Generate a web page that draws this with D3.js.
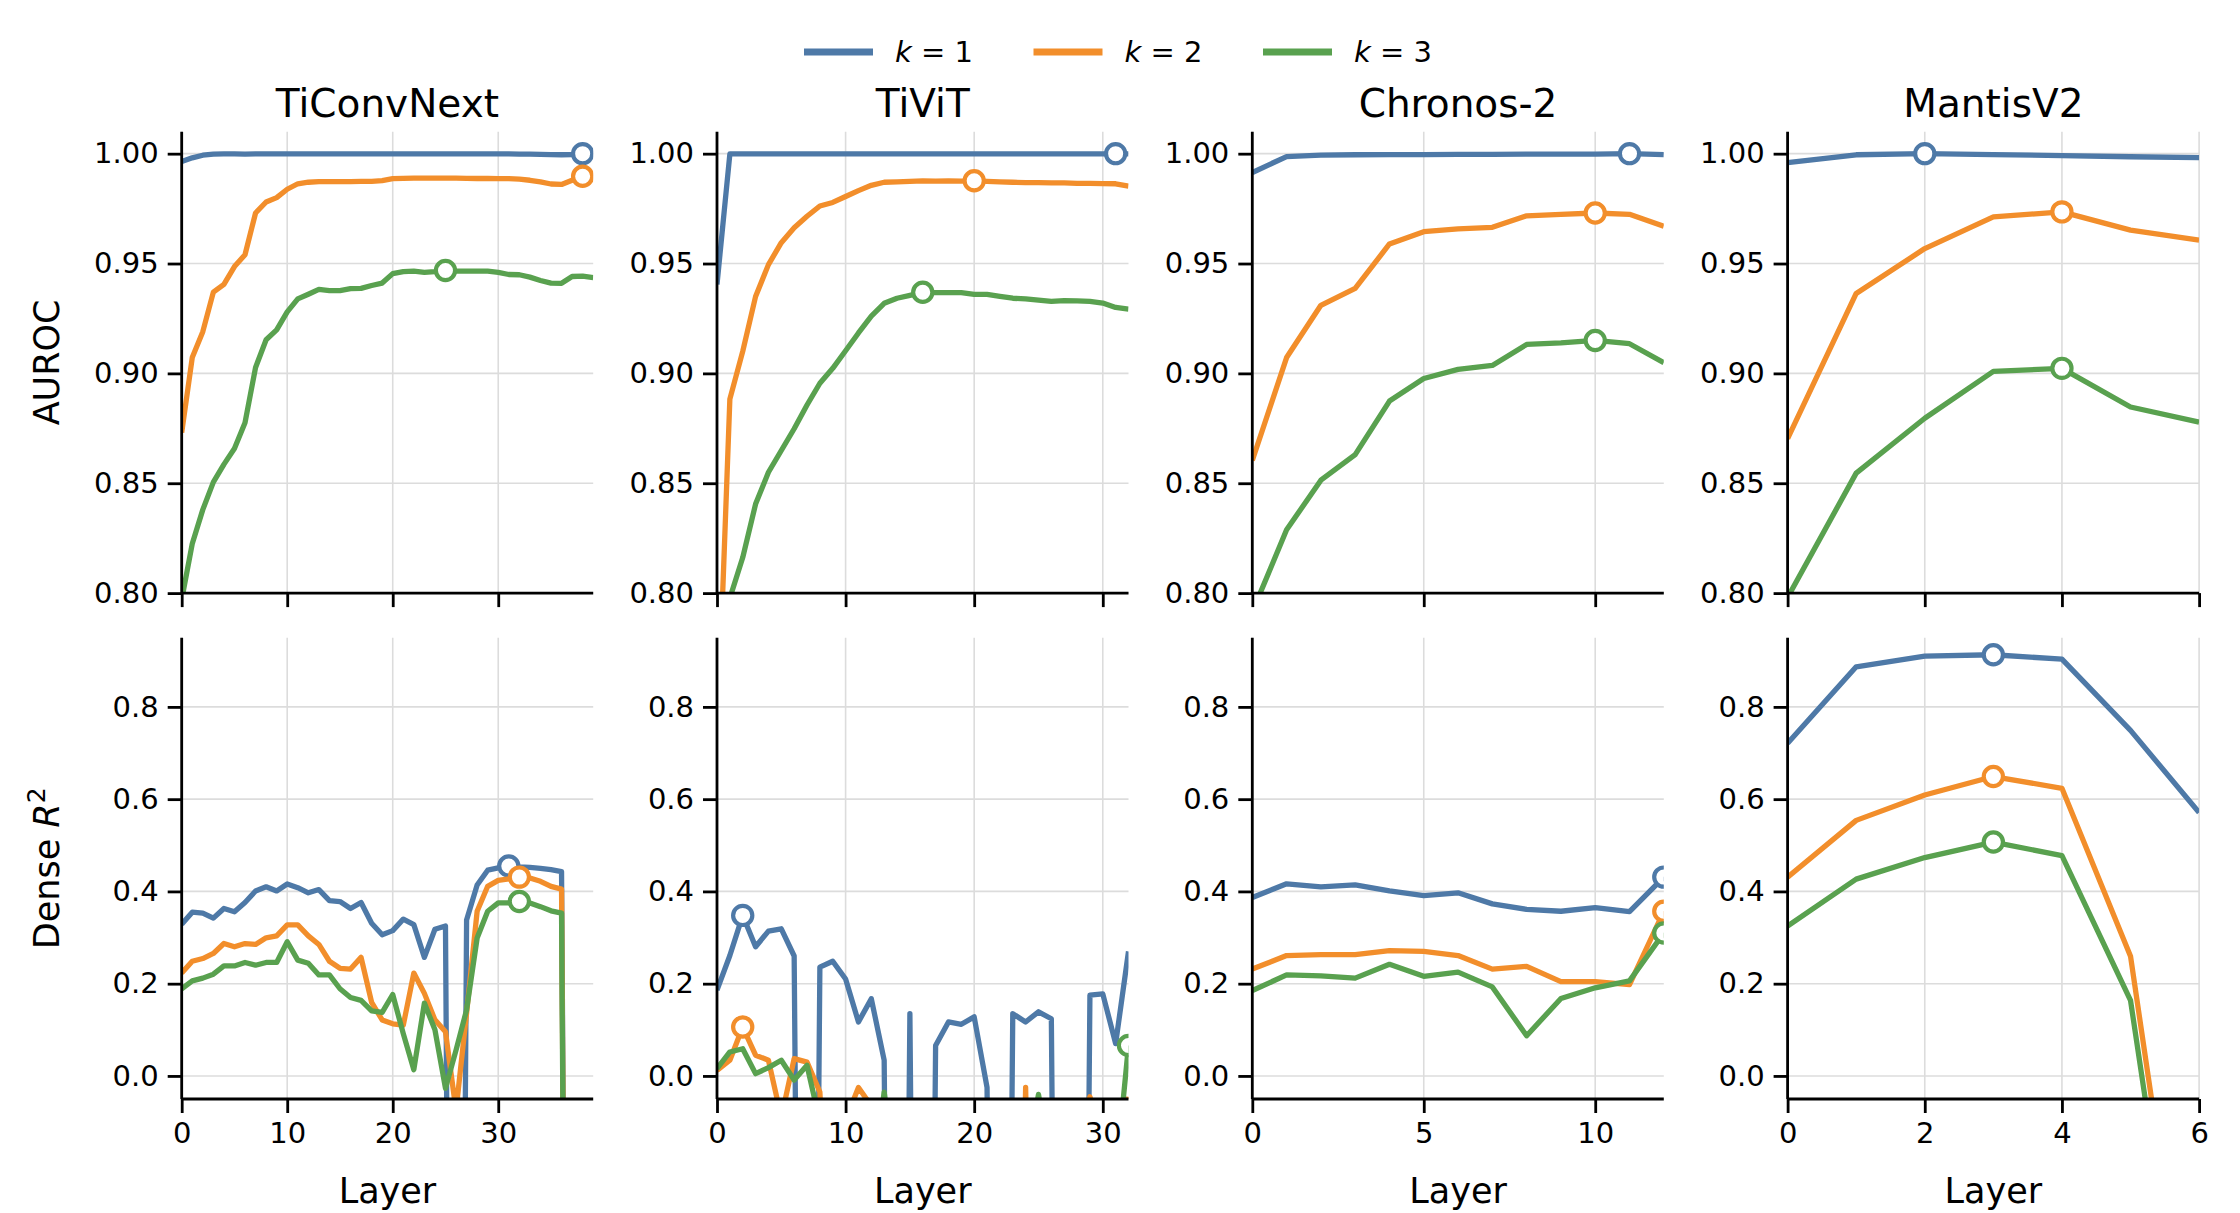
<!DOCTYPE html>
<html>
<head>
<meta charset="utf-8">
<script src="https://cdn.jsdelivr.net/npm/d3@7"></script>
<style>
  body { margin: 0; background: #fff; }
  svg { display: block; font-family: "DejaVu Sans", sans-serif; }
</style>
</head>
<body>
<div id="chart"></div>
<script>
/* DATA */
const models = ["TiConvNext", "TiViT", "Chronos-2", "MantisV2"];
const kLabels = ["1", "2", "3"];
const colors = ["#4e79a7", "#f28e2b", "#59a14f"];

const xTicks = [[0, 10, 20, 30], [0, 10, 20, 30], [0, 5, 10], [0, 2, 4, 6]];
const aurocTicks = [0.80, 0.85, 0.90, 0.95, 1.00];
const r2Ticks = [0.0, 0.2, 0.4, 0.6, 0.8];

// TiConvNext, layers 0..39
const ticonvAurocK1 = [0.9964,0.9981,0.9993,0.9998,0.9999,0.9999,0.9998,0.9999,0.9999,0.9999,
  0.9999,0.9999,0.9999,0.9999,0.9999,0.9999,0.9999,0.9999,0.9999,0.9999,
  0.9999,0.9999,0.9999,0.9999,0.9999,0.9999,0.9999,0.9999,0.9999,0.9999,
  0.9999,0.9999,0.9998,0.9998,0.9997,0.9996,0.9995,0.9996,1.0000,0.9998];
const ticonvAurocK2 = [0.873,0.9072,0.919,0.937,0.9405,0.9486,0.954,0.973,0.978,0.980,
  0.9838,0.9863,0.987,0.9873,0.9873,0.9873,0.9873,0.9874,0.9874,0.9877,
  0.9886,0.9888,0.9889,0.9889,0.9889,0.9889,0.9889,0.9888,0.9887,0.9887,
  0.9886,0.9886,0.9884,0.9879,0.9872,0.9862,0.986,0.9879,0.9897,0.9893];
const ticonvAurocK3 = [0.797,0.8225,0.838,0.8505,0.8586,0.8658,0.8775,0.9027,0.9153,0.9198,
  0.928,0.9339,0.936,0.9382,0.9377,0.9377,0.9386,0.9387,0.94,0.9411,
  0.9454,0.9463,0.9465,0.946,0.9463,0.9468,0.9465,0.9465,0.9465,0.9465,
  0.946,0.945,0.9449,0.9438,0.9423,0.9411,0.941,0.9441,0.9443,0.9436];
const ticonvR2K1 = [0.329,0.355,0.353,0.342,0.363,0.356,0.376,0.401,0.41,0.401,
  0.416,0.408,0.397,0.404,0.38,0.378,0.363,0.376,0.331,0.306,
  0.315,0.34,0.328,0.257,0.318,0.325,-3.0,0.338,0.414,0.446,
  0.451,0.455,0.453,0.452,0.45,0.447,0.443,-3.0,-3.2,-3.1];
const ticonvR2K2 = [0.223,0.2486,0.2545,0.2655,0.287,0.28,0.287,0.285,0.2995,0.3037,
  0.3275,0.3275,0.3037,0.285,0.2486,0.2333,0.2316,0.257,0.1595,0.1213,
  0.113,0.11,0.223,0.179,0.1215,0.096,-0.075,0.136,0.357,0.411,
  0.424,0.427,0.431,0.429,0.422,0.411,0.405,-3.0,-3.0,-3.0];
const ticonvR2K3 = [0.189,0.206,0.212,0.2206,0.2384,0.2384,0.246,0.24,0.246,0.246,
  0.291,0.251,0.2443,0.219,0.219,0.189,0.17,0.1637,0.1408,0.138,
  0.1765,0.0916,0.0135,0.158,0.1,-0.027,0.056,0.143,0.299,0.357,
  0.375,0.375,0.378,0.375,0.367,0.358,0.353,-3.0,-3.0,-3.0];

// TiViT, layers 0..32
const tivitAurocK1 = [0.9405,0.9999,0.9999,0.9999,0.9999,0.9999,0.9999,0.9999,0.9999,0.9999,
  0.9999,0.9999,0.9999,0.9999,0.9999,0.9999,0.9999,0.9999,0.9999,0.9999,
  0.9999,0.9999,0.9999,0.9999,0.9999,0.9999,0.9999,0.9999,0.9999,0.9999,
  0.9999,1.0000,0.9999];
const tivitAurocK2 = [0.73,0.8883,0.91,0.935,0.9495,0.9595,0.9663,0.9715,0.9762,0.9778,
  0.9805,0.9832,0.9856,0.987,0.9872,0.9874,0.9876,0.9875,0.9876,0.9875,
  0.9877,0.9874,0.9872,0.987,0.9868,0.9868,0.9867,0.9867,0.9865,0.9865,
  0.9864,0.9863,0.9852];
const tivitAurocK3 = [0.72,0.7977,0.8162,0.8405,0.855,0.8649,0.8748,0.8856,0.8955,0.9023,
  0.9103,0.9184,0.9261,0.9319,0.9342,0.9355,0.9369,0.9368,0.9368,0.9368,
  0.936,0.936,0.9351,0.9342,0.9339,0.9333,0.9328,0.9331,0.933,0.9328,
  0.932,0.930,0.9292];
const tivitR2K1 = [0.186,0.261,0.348,0.28,0.314,0.319,0.26,-3.0,0.236,0.2486,
  0.21,0.117,0.1675,0.034,-3.0,0.135,-3.0,0.066,0.117,0.112,
  0.128,-0.025,-3.0,0.135,0.117,0.139,0.124,-3.0,-3.0,0.175,
  0.178,0.07,0.27];
const tivitR2K2 = [0.012,0.034,0.106,0.045,0.034,-0.09,0.0375,0.03,-0.035,-0.6,
  -0.095,-0.025,-0.065,-1.0,-1.5,-1.0,-1.2,-1.0,-1.3,-1.0,
  -1.2,-1.0,-1.1,-1.5,-0.025,-1.5,-1.0,-1.2,-0.15,-0.045,
  -0.15,-0.3,-0.045];
const tivitR2K3 = [0.016,0.052,0.059,0.005,0.018,0.034,-0.009,0.023,-0.1,-1.0,
  -1.0,-1.2,-0.25,-0.035,-0.25,-1.0,-1.0,-1.0,-1.0,-1.0,
  -1.0,-1.0,-1.0,-1.0,-0.2,-0.04,-0.2,-1.0,-1.0,-1.0,
  -1.0,-0.22,0.066];

// Chronos-2, layers 0..12
const chronosAurocK1 = [0.9914,0.9987,0.9993,0.9995,0.9996,0.9996,0.9997,0.9997,0.9998,0.9998,0.9998,1.0,0.9996];
const chronosAurocK2 = [0.8604,0.9072,0.931,0.9387,0.9589,0.9645,0.9658,0.9665,0.9717,0.9724,0.973,0.9724,0.967];
const chronosAurocK3 = [0.7914,0.8288,0.8514,0.863,0.8874,0.8977,0.9018,0.9036,0.9132,0.9139,0.915,0.9135,0.9049];
const chronosR2K1 = [0.387,0.4165,0.41,0.414,0.401,0.391,0.397,0.373,0.361,0.357,0.365,0.356,0.431];
const chronosR2K2 = [0.2316,0.261,0.263,0.263,0.2715,0.27,0.261,0.2316,0.2375,0.2045,0.2045,0.198,0.357];
const chronosR2K3 = [0.185,0.219,0.217,0.212,0.242,0.216,0.225,0.193,0.087,0.168,0.191,0.206,0.31];

// MantisV2, layers 0..6
const mantisAurocK1 = [0.9959,0.9995,1.0,0.9996,0.9991,0.9986,0.9982];
const mantisAurocK2 = [0.8703,0.9364,0.9568,0.9712,0.9735,0.9652,0.9607];
const mantisAurocK3 = [0.798,0.8546,0.8796,0.9009,0.9023,0.8847,0.8778];
const mantisR2K1 = [0.721,0.887,0.910,0.913,0.9035,0.749,0.571];
const mantisR2K2 = [0.431,0.554,0.609,0.649,0.6235,0.2596,-0.75];
const mantisR2K3 = [0.325,0.4267,0.4734,0.507,0.4776,0.1637,-0.83];

const aurocSeries = [
  [ticonvAurocK1, ticonvAurocK2, ticonvAurocK3],
  [tivitAurocK1, tivitAurocK2, tivitAurocK3],
  [chronosAurocK1, chronosAurocK2, chronosAurocK3],
  [mantisAurocK1, mantisAurocK2, mantisAurocK3]
];
const r2Series = [
  [ticonvR2K1, ticonvR2K2, ticonvR2K3],
  [tivitR2K1, tivitR2K2, tivitR2K3],
  [chronosR2K1, chronosR2K2, chronosR2K3],
  [mantisR2K1, mantisR2K2, mantisR2K3]
];

/* LAYOUT */
const width = 2240, height = 1213;
const panelW = 411.5, colStep = 535.3, left0 = 181.7;
const rows = [
  { top: 131.7, h: 461.4, domain: [0.80, 1.01], ticks: aurocTicks, fmt: d3.format(".2f"), series: aurocSeries },
  { top: 637.7, h: 461.3, domain: [-0.05, 0.95], ticks: r2Ticks, fmt: d3.format(".1f"), series: r2Series }
];
const tickLen = 14, tickFont = 29, labelFont = 35, titleFont = 39;
const lineW = 5.3;

const svg = d3.select("#chart").append("svg")
  .attr("width", width)
  .attr("height", height);

rows.forEach((row, ri) => {
  models.forEach((model, mi) => {
    const series = row.series[mi];
    const n = series[0].length;
    const x0 = left0 + mi * colStep;

    const xScale = d3.scaleLinear().domain([0, n - 1]).range([x0, x0 + panelW]);
    const yScale = d3.scaleLinear().domain(row.domain).range([row.top + row.h, row.top]);

    const g = svg.append("g");
    const clipId = `clip-${ri}-${mi}`;
    svg.append("clipPath").attr("id", clipId)
      .append("rect")
      .attr("x", x0).attr("y", row.top)
      .attr("width", panelW).attr("height", row.h);

    // grid
    g.selectAll(".gx").data(xTicks[mi]).join("line")
      .attr("x1", d => xScale(d)).attr("x2", d => xScale(d))
      .attr("y1", row.top).attr("y2", row.top + row.h)
      .attr("stroke", "#dcdcdc").attr("stroke-width", 1.6);
    g.selectAll(".gy").data(row.ticks).join("line")
      .attr("x1", x0).attr("x2", x0 + panelW)
      .attr("y1", d => yScale(d)).attr("y2", d => yScale(d))
      .attr("stroke", "#dcdcdc").attr("stroke-width", 1.6);

    // lines + best-layer markers
    const line = d3.line().x((d, i) => xScale(i)).y(d => yScale(d));
    const plot = g.append("g").attr("clip-path", `url(#${clipId})`);
    series.forEach((vals, k) => {
      plot.append("path")
        .datum(vals)
        .attr("d", line)
        .attr("fill", "none")
        .attr("stroke", colors[k])
        .attr("stroke-width", lineW)
        .attr("stroke-linejoin", "round");
      const best = d3.maxIndex(vals);
      plot.append("circle")
        .attr("cx", xScale(best))
        .attr("cy", yScale(vals[best]))
        .attr("r", 9.6)
        .attr("fill", "#fff")
        .attr("stroke", colors[k])
        .attr("stroke-width", 4.2);
    });

    // axes
    const xAxis = d3.axisBottom(xScale).tickValues(xTicks[mi])
      .tickSize(tickLen).tickPadding(9)
      .tickFormat(ri === 1 ? d3.format("d") : "");
    const yAxis = d3.axisLeft(yScale).tickValues(row.ticks)
      .tickSize(tickLen).tickPadding(9)
      .tickFormat(row.fmt);

    const gx = svg.append("g")
      .attr("transform", `translate(0,${row.top + row.h})`)
      .call(xAxis);
    const gy = svg.append("g")
      .attr("transform", `translate(${x0},0)`)
      .call(yAxis);
    [gx, gy].forEach(a => {
      a.select(".domain").attr("stroke", "#000").attr("stroke-width", 2.8);
      a.selectAll(".tick line").attr("stroke", "#000").attr("stroke-width", 2.8);
      a.selectAll(".tick text")
        .attr("fill", "#000")
        .style("font-size", tickFont + "px")
        .style("font-family", "DejaVu Sans");
    });
    // spine without the d3 end caps
    gx.select(".domain").attr("d", `M${x0},0H${x0 + panelW}`);
    gy.select(".domain").attr("d", `M0,${row.top}V${row.top + row.h}`);

    if (ri === 0) {
      svg.append("text")
        .attr("x", x0 + panelW / 2)
        .attr("y", 117)
        .attr("text-anchor", "middle")
        .style("font-size", titleFont + "px")
        .text(model);
    } else {
      svg.append("text")
        .attr("x", x0 + panelW / 2)
        .attr("y", 1203)
        .attr("text-anchor", "middle")
        .style("font-size", labelFont + "px")
        .text("Layer");
    }
  });
});

// y-axis titles
svg.append("text")
  .attr("transform", `translate(59,${rows[0].top + rows[0].h / 2}) rotate(-90)`)
  .attr("text-anchor", "middle")
  .style("font-size", labelFont + "px")
  .text("AUROC");

const r2Label = svg.append("text")
  .attr("transform", `translate(59,${rows[1].top + rows[1].h / 2}) rotate(-90)`)
  .attr("text-anchor", "middle")
  .style("font-size", labelFont + "px");
r2Label.append("tspan").text("Dense ");
r2Label.append("tspan").style("font-style", "italic").text("R");
r2Label.append("tspan").attr("dy", -14).style("font-size", "25px").text("2");

// legend
const legend = svg.append("g");
kLabels.forEach((k, i) => {
  const lx = 804 + i * 229.5;
  legend.append("line")
    .attr("x1", lx).attr("x2", lx + 69)
    .attr("y1", 52).attr("y2", 52)
    .attr("stroke", colors[i]).attr("stroke-width", 7);
  const t = legend.append("text")
    .attr("x", lx + 91).attr("y", 62)
    .style("font-size", tickFont + "px");
  t.append("tspan").style("font-style", "italic").text("k");
  t.append("tspan").text(" = " + k);
});
</script>
</body>
</html>
